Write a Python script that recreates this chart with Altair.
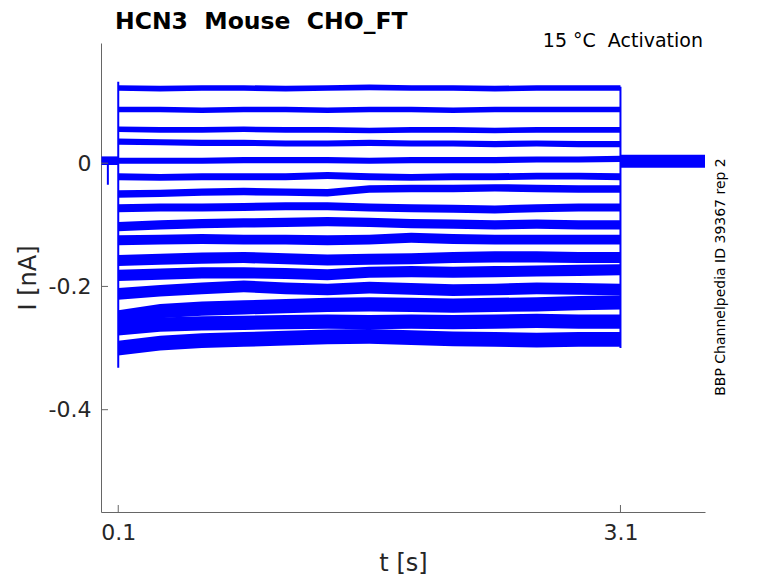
import altair as alt
import pandas as pd

# ---------------- data ----------------
t_pulse = [0.1, 0.35, 0.6, 0.85, 1.1, 1.35, 1.6, 1.85, 2.1, 2.35, 2.6, 2.85, 3.1]

trace_1 = [0.122, 0.121, 0.122, 0.122, 0.121, 0.122, 0.123, 0.122, 0.122, 0.121, 0.122, 0.122, 0.122]
trace_2 = [0.087, 0.087, 0.086, 0.087, 0.087, 0.086, 0.087, 0.087, 0.086, 0.087, 0.087, 0.087, 0.087]
trace_3 = [0.055, 0.054, 0.054, 0.055, 0.054, 0.054, 0.053, 0.054, 0.054, 0.053, 0.054, 0.054, 0.054]
trace_4 = [0.035, 0.034, 0.033, 0.033, 0.032, 0.032, 0.033, 0.032, 0.032, 0.031, 0.032, 0.031, 0.031]
trace_5 = [0.004, 0.004, 0.004, 0.005, 0.005, 0.005, 0.004, 0.005, 0.005, 0.005, 0.006, 0.006, 0.007]
trace_6 = [-0.022, -0.023, -0.022, -0.022, -0.022, -0.020, -0.022, -0.023, -0.022, -0.022, -0.021, -0.021, -0.022]
trace_7 = [-0.050, -0.049, -0.047, -0.046, -0.047, -0.048, -0.042, -0.041, -0.041, -0.040, -0.041, -0.042, -0.042]
trace_8 = [-0.073, -0.072, -0.072, -0.071, -0.070, -0.070, -0.072, -0.073, -0.074, -0.075, -0.073, -0.072, -0.072]
trace_9 = [-0.103, -0.100, -0.098, -0.097, -0.096, -0.095, -0.096, -0.098, -0.099, -0.100, -0.099, -0.100, -0.100]
trace_10 = [-0.125, -0.124, -0.123, -0.124, -0.124, -0.125, -0.124, -0.121, -0.123, -0.124, -0.124, -0.124, -0.124]
trace_11 = [-0.158, -0.156, -0.154, -0.153, -0.155, -0.157, -0.156, -0.155, -0.153, -0.152, -0.152, -0.153, -0.153]
trace_12 = [-0.182, -0.180, -0.178, -0.178, -0.179, -0.181, -0.177, -0.176, -0.177, -0.176, -0.175, -0.174, -0.173]
trace_13 = [-0.212, -0.207, -0.203, -0.200, -0.203, -0.205, -0.202, -0.204, -0.206, -0.205, -0.203, -0.204, -0.205]
trace_14 = [-0.250, -0.240, -0.236, -0.234, -0.232, -0.230, -0.229, -0.230, -0.231, -0.230, -0.229, -0.227, -0.226]
trace_15 = [-0.268, -0.262, -0.260, -0.259, -0.258, -0.257, -0.258, -0.257, -0.258, -0.257, -0.256, -0.257, -0.257]
trace_16 = [-0.300, -0.292, -0.288, -0.286, -0.284, -0.282, -0.281, -0.283, -0.285, -0.286, -0.287, -0.286, -0.286]

traces = [trace_1, trace_2, trace_3, trace_4, trace_5, trace_6, trace_7, trace_8,
          trace_9, trace_10, trace_11, trace_12, trace_13, trace_14, trace_15, trace_16]

# half width of the noise band of each trace (nA)
noise_hw = [0.0045, 0.0045, 0.0045, 0.005, 0.005, 0.0055, 0.006, 0.0065,
            0.0075, 0.008, 0.009, 0.009, 0.0095, 0.0115, 0.0115, 0.012]

# holding current before and after the pulse
pre_t = [0.0, 0.1]
pre_i = [0.004, 0.004]
pre_hw = 0.007
post_t = [3.1, 3.605]
post_i = [0.003, 0.003]
post_hw = 0.0105

# vertical transients (onset, offset, artefact)
jump_t = [0.1, 3.1, 0.038]
jump_top = [0.132, 0.124, 0.004]
jump_bottom = [-0.332, -0.300, -0.035]

x_ticks = [0.1, 3.1]
x_tick_labels = ["0.1", "3.1"]
y_ticks = [-0.4, -0.2, 0.0]
y_tick_labels = ["-0.4", "-0.2", "0"]

x_domain = [-0.003, 3.605]
y_domain = [-0.566, 0.195]

title_text = "HCN3\u00a0\u00a0Mouse\u00a0\u00a0CHO_FT"
temp_text = "15 °C\u00a0\u00a0Activation"
id_text = "BBP Channelpedia ID 39367 rep 2"

# ---------------- tables ----------------
rows = []
for k, (vals, hw) in enumerate(zip(traces, noise_hw)):
    for t, v in zip(t_pulse, vals):
        rows.append({"trace": f"s{k+1}", "t": t, "lo": v - hw, "hi": v + hw})
for t, v in zip(pre_t, pre_i):
    rows.append({"trace": "pre", "t": t, "lo": v - pre_hw, "hi": v + pre_hw})
for t, v in zip(post_t, post_i):
    rows.append({"trace": "post", "t": t, "lo": v - post_hw, "hi": v + post_hw})
df = pd.DataFrame(rows)

df_jump = pd.DataFrame({"t": jump_t, "lo": jump_top, "hi": jump_bottom})
df_xt = pd.DataFrame({"t": x_ticks})
df_yt = pd.DataFrame({"lo": y_ticks})

FONT = "DejaVu Sans"
BLUE = "#0000ff"
AXC = "#666666"
TXT = "#262626"

xscale = alt.Scale(domain=x_domain, nice=False, zero=False)
yscale = alt.Scale(domain=y_domain, nice=False, zero=False)

x_label_expr = " : ".join(
    [f"abs(datum.value - {v}) < 1e-6 ? '{l}'" for v, l in zip(x_ticks, x_tick_labels)] + ["''"]
)
y_label_expr = " : ".join(
    [f"abs(datum.value - ({v})) < 1e-6 ? '{l}'" for v, l in zip(y_ticks, y_tick_labels)] + ["''"]
)

X_AXIS = alt.Axis(values=x_ticks, labelExpr=x_label_expr, ticks=False, grid=False,
                  labelFontSize=22, labelFont=FONT, labelColor=TXT, labelPadding=10,
                  domainColor=AXC, domainWidth=1,
                  title="t [s]", titleFont=FONT, titleFontSize=24,
                  titleFontWeight="normal", titleColor=TXT, titlePadding=8)
Y_AXIS = alt.Axis(values=y_ticks, labelExpr=y_label_expr, ticks=False, grid=False,
                  labelFontSize=22, labelFont=FONT, labelColor=TXT, labelPadding=10,
                  domainColor=AXC, domainWidth=1,
                  title="I [nA]", titleFont=FONT, titleFontSize=24,
                  titleFontWeight="normal", titleColor=TXT, titlePadding=8)

bands = alt.Chart(df).mark_area(color=BLUE, interpolate="linear", clip=True).encode(
    x=alt.X("t:Q", scale=xscale, axis=X_AXIS),
    y=alt.Y("lo:Q", scale=yscale, axis=Y_AXIS),
    y2="hi:Q",
    detail="trace:N",
)

jumps = alt.Chart(df_jump).mark_rule(color=BLUE, strokeWidth=2).encode(
    x=alt.X("t:Q", scale=xscale, axis=X_AXIS),
    y=alt.Y("lo:Q", scale=yscale, axis=Y_AXIS),
    y2="hi:Q",
)

xticks = alt.Chart(df_xt).mark_rule(color=AXC, strokeWidth=1).encode(
    x=alt.X("t:Q", scale=xscale, axis=X_AXIS),
    y=alt.value(469),
    y2=alt.value(462),
)
yticks = alt.Chart(df_yt).mark_rule(color=AXC, strokeWidth=1).encode(
    y=alt.Y("lo:Q", scale=yscale, axis=Y_AXIS),
    x=alt.value(0),
    x2=alt.value(7),
)

title = alt.Chart(pd.DataFrame({"label": [title_text]})).mark_text(
    font=FONT, fontSize=23.5, fontWeight="bold", color="#000000", align="left", baseline="alphabetic"
).encode(text="label:N", x=alt.value(14), y=alt.value(-14))

temp = alt.Chart(pd.DataFrame({"label": [temp_text]})).mark_text(
    font=FONT, fontSize=19, color="#000000", align="right", baseline="alphabetic"
).encode(text="label:N", x=alt.value(602), y=alt.value(4))

idlab = alt.Chart(pd.DataFrame({"label": [id_text]})).mark_text(
    font=FONT, fontSize=14, color="#000000", align="center", baseline="middle", angle=270
).encode(text="label:N", x=alt.value(620), y=alt.value(234))

chart = alt.layer(bands, jumps, xticks, yticks, title, temp, idlab).properties(
    width=604,
    height=469,
    autosize=alt.AutoSizeParams(type="none"),
    padding={"left": 93, "top": 35, "right": 60, "bottom": 64},
).configure_view(stroke="transparent")

chart.save("out.html", embed_options={"renderer": "svg", "actions": False})
